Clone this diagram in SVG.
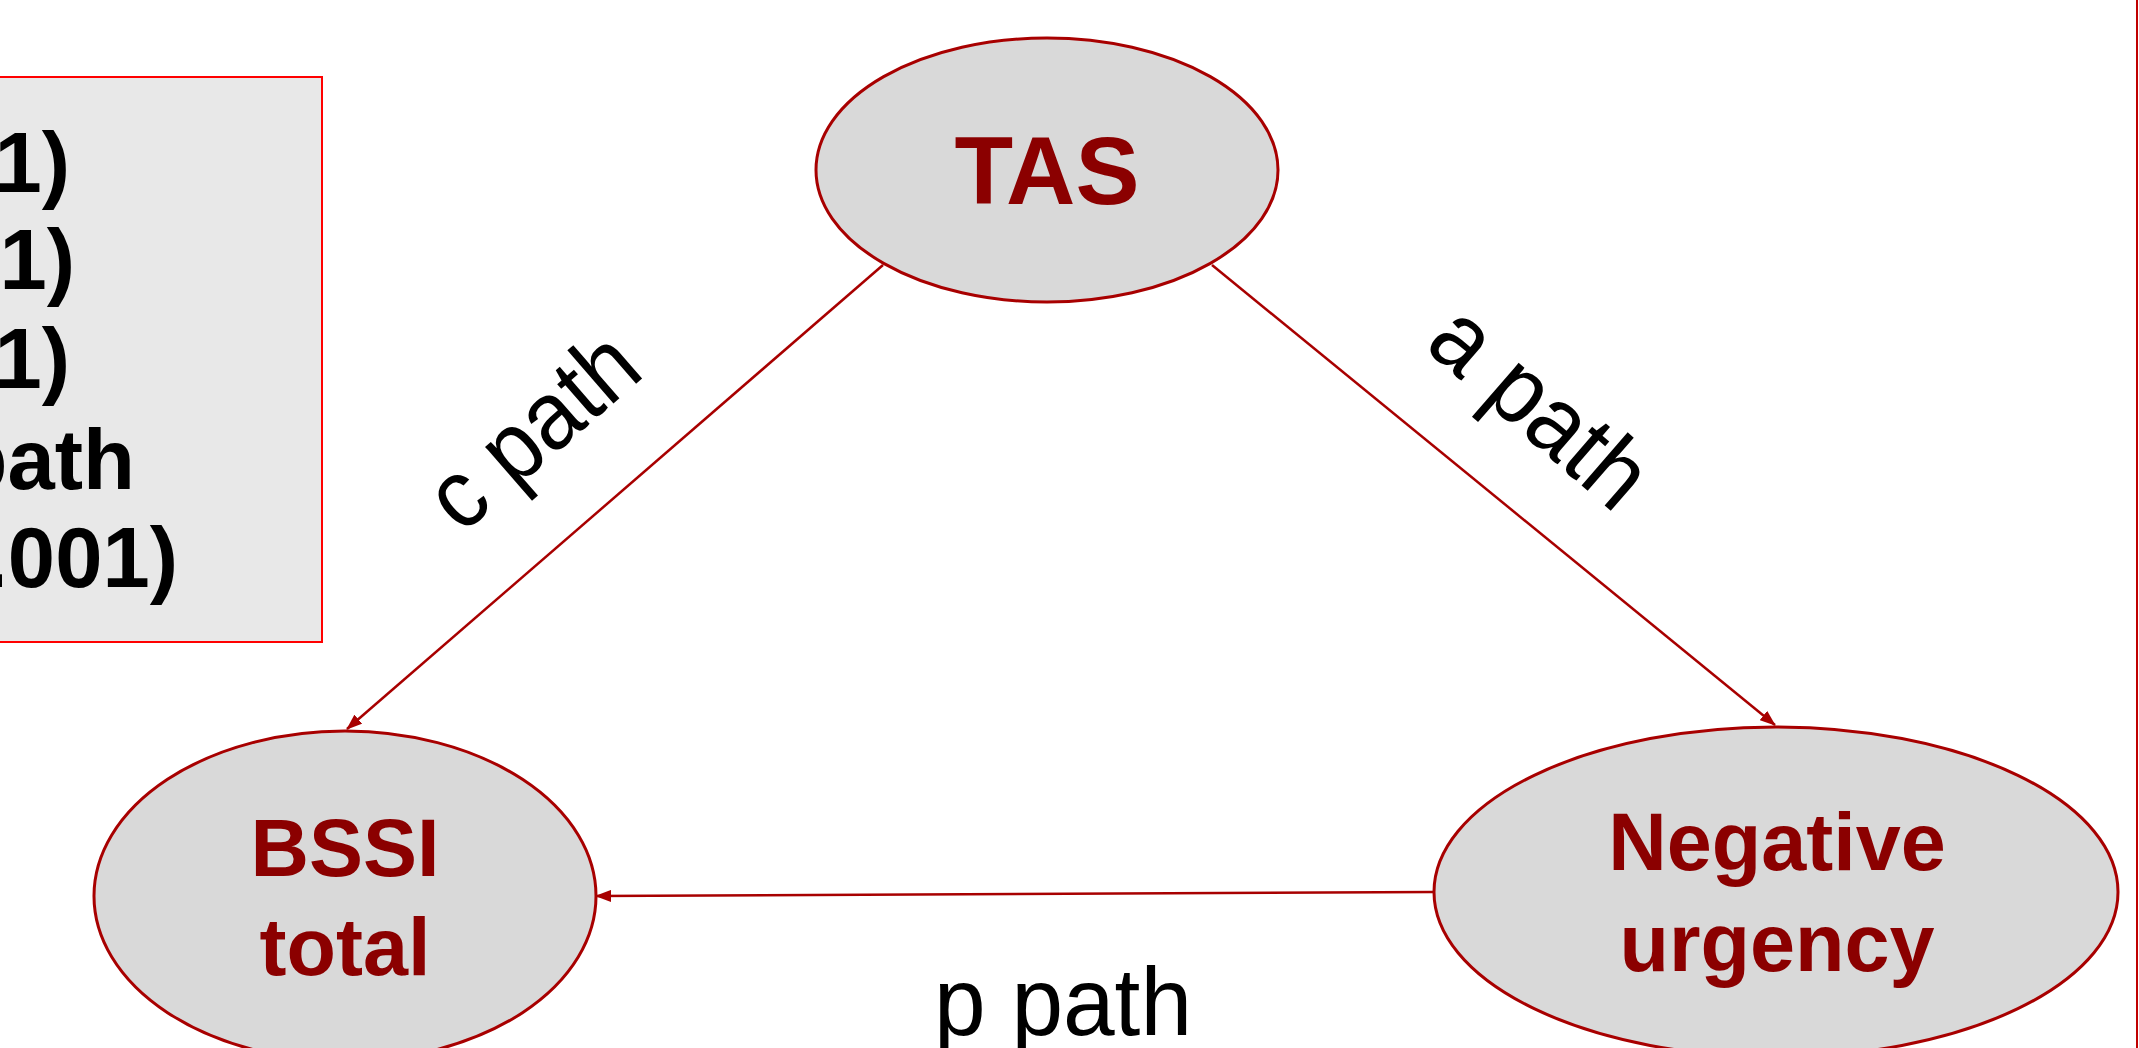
<svg xmlns="http://www.w3.org/2000/svg" width="2139" height="1048" viewBox="0 0 2139 1048">
<defs>
<style>
.node ellipse{fill:#d9d9d9;stroke:#a80000;stroke-width:3}
.nl{font-family:"Liberation Sans",Arial,sans-serif;font-weight:bold;fill:#8b0000;text-anchor:middle}
.lbl{font-family:"Liberation Sans",Arial,sans-serif;font-size:97px;fill:#000;text-anchor:middle}
.leg{font-family:"Liberation Sans",Arial,sans-serif;font-weight:bold;font-size:85px;fill:#000;text-anchor:end}
.conn line{stroke:#a80000;stroke-width:2.5;marker-end:url(#ah)}
</style>
<marker id="ah" markerUnits="userSpaceOnUse" markerWidth="16" markerHeight="12" refX="15" refY="6" orient="auto">
<path d="M0,0 L16,6 L0,12 z" fill="#a80000"/>
</marker>
</defs>
<rect width="2139" height="1048" fill="#ffffff"/>
<line x1="2137" y1="0" x2="2137" y2="1048" stroke="#c00000" stroke-width="2"/>
<g id="legend">
<rect x="-10" y="77" width="332" height="565" fill="#e8e8e8" stroke="#ff0000" stroke-width="2"/>
<text class="leg" x="70" y="192">1)</text>
<text class="leg" x="75" y="289">1)</text>
<text class="leg" x="70" y="388">1)</text>
<text class="leg" x="135" y="489">path</text>
<text class="leg" x="178" y="587">.001)</text>
</g>
<g id="connectors" class="conn">
<line x1="883" y1="265" x2="347" y2="729"/>
<line x1="1212" y1="265" x2="1775" y2="725"/>
<line x1="1434" y1="892" x2="596" y2="896"/>
</g>
<g id="labels">
<text class="lbl" transform="translate(554,455) rotate(-41)" textLength="245" lengthAdjust="spacingAndGlyphs">c path</text>
<text class="lbl" transform="translate(1519,431) rotate(41)" textLength="255" lengthAdjust="spacingAndGlyphs">a path</text>
<text class="lbl" x="1063" y="1035" textLength="258" lengthAdjust="spacingAndGlyphs">p path</text>
</g>
<g id="node-tas" class="node">
<ellipse cx="1047" cy="170" rx="231" ry="132"/>
<text class="nl" x="1047" y="204" font-size="96">TAS</text>
</g>
<g id="node-bssi" class="node">
<ellipse cx="345" cy="896" rx="251" ry="165"/>
<text class="nl" x="345" y="876" font-size="81">BSSI</text>
<text class="nl" x="345" y="975" font-size="81">total</text>
</g>
<g id="node-nu" class="node">
<ellipse cx="1776" cy="892" rx="342" ry="165"/>
<text class="nl" x="1777" y="870" font-size="81">Negative</text>
<text class="nl" x="1777" y="971" font-size="81">urgency</text>
</g>
</svg>
